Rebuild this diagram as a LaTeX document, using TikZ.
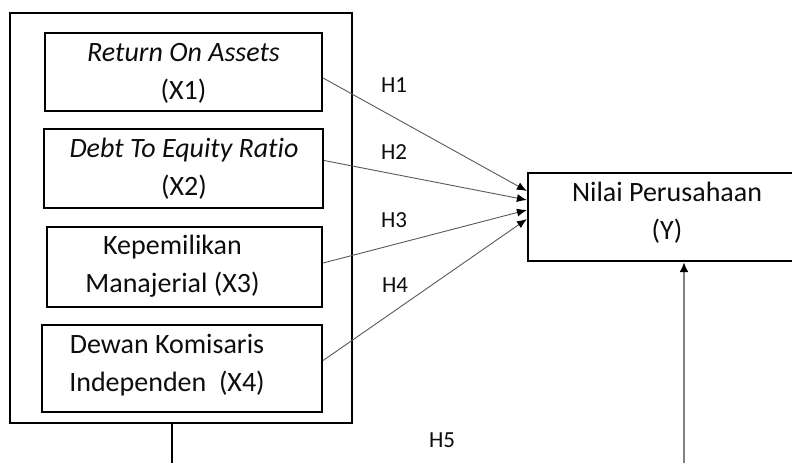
\documentclass[tikz,border=0pt]{standalone}
\usepackage{fontspec}
\setmainfont[Ligatures=NoCommon]{Carlito}
\usetikzlibrary{arrows.meta}
\begin{document}
\begin{tikzpicture}[x=1pt,y=-1pt,
  box/.style={draw, line width=2.2pt, inner sep=0pt, minimum width=#1},
  txt/.style={align=center, font=\fontsize{28}{38}\selectfont, inner sep=0pt, text=black!95},
  hlab/.style={font=\fontsize{23}{26}\selectfont, text=black!95, inner sep=0pt},
  conn/.style={draw=black!65, line width=0.9pt, -{Latex[length=10pt,width=8pt,black]}}]
\useasboundingbox (0,0) rectangle (792,463);
\clip (0,0) rectangle (792,463);
\fill[white] (0,0) rectangle (792,463);
% outer group box
\node[box=342pt, minimum height=410pt] (outer) at (181,218) {};
% inner boxes
\node[box=277pt, minimum height=78pt] (x1) at (183.5,72) {};
\node[box=279pt, minimum height=79pt] (x2) at (183.5,168.5) {};
\node[box=275pt, minimum height=80pt] (x3) at (184.5,267) {};
\node[box=280pt, minimum height=87pt] (x4) at (182,368.5) {};
\node[txt] (t1) at (183.5,73.5) {\textit{Return On Assets}\\(X1)};
\node[txt] (t2) at (184,169) {\textit{Debt To Equity Ratio}\\(X2)};
\node[txt] (t3) at (172.5,266) {Kepemilikan\\Manajerial (X3)};
\node[txt] (t4) at (167,365) {Dewan Komisaris\\Independen\ \ (X4)};
% dependent box
\node[box=278pt, minimum height=88pt] (y) at (667,217) {};
\node[txt] (ty) at (667,213) {Nilai Perusahaan\\(Y)};
% hypothesis labels
\node[hlab] (h1) at (394,85) {H1};
\node[hlab] (h2) at (394,152) {H2};
\node[hlab] (h3) at (394,220) {H3};
\node[hlab] (h4) at (395,285) {H4};
\node[hlab] (h5) at (442,440) {H5};
% connectors
\draw[conn] ([yshift=-6pt]x1.east) -- ([yshift=26pt]y.west);
\draw[conn] ([yshift=8pt]x2.east) -- ([yshift=17pt]y.west);
\draw[conn] ([yshift=4pt]x3.east) -- ([yshift=7pt]y.west);
\draw[conn] ([yshift=8pt]x4.east) -- ([yshift=-2pt]y.west);
\coordinate (b1) at (172,463);
\coordinate (b2) at (684,463);
\draw[line width=1.4pt] (b1 |- outer.south) -- (b1);
\draw[draw=black!50, line width=2pt, -{Latex[length=10pt,width=9pt,black]}] (b2) -- (b2 |- y.south);
\end{tikzpicture}
\end{document}
